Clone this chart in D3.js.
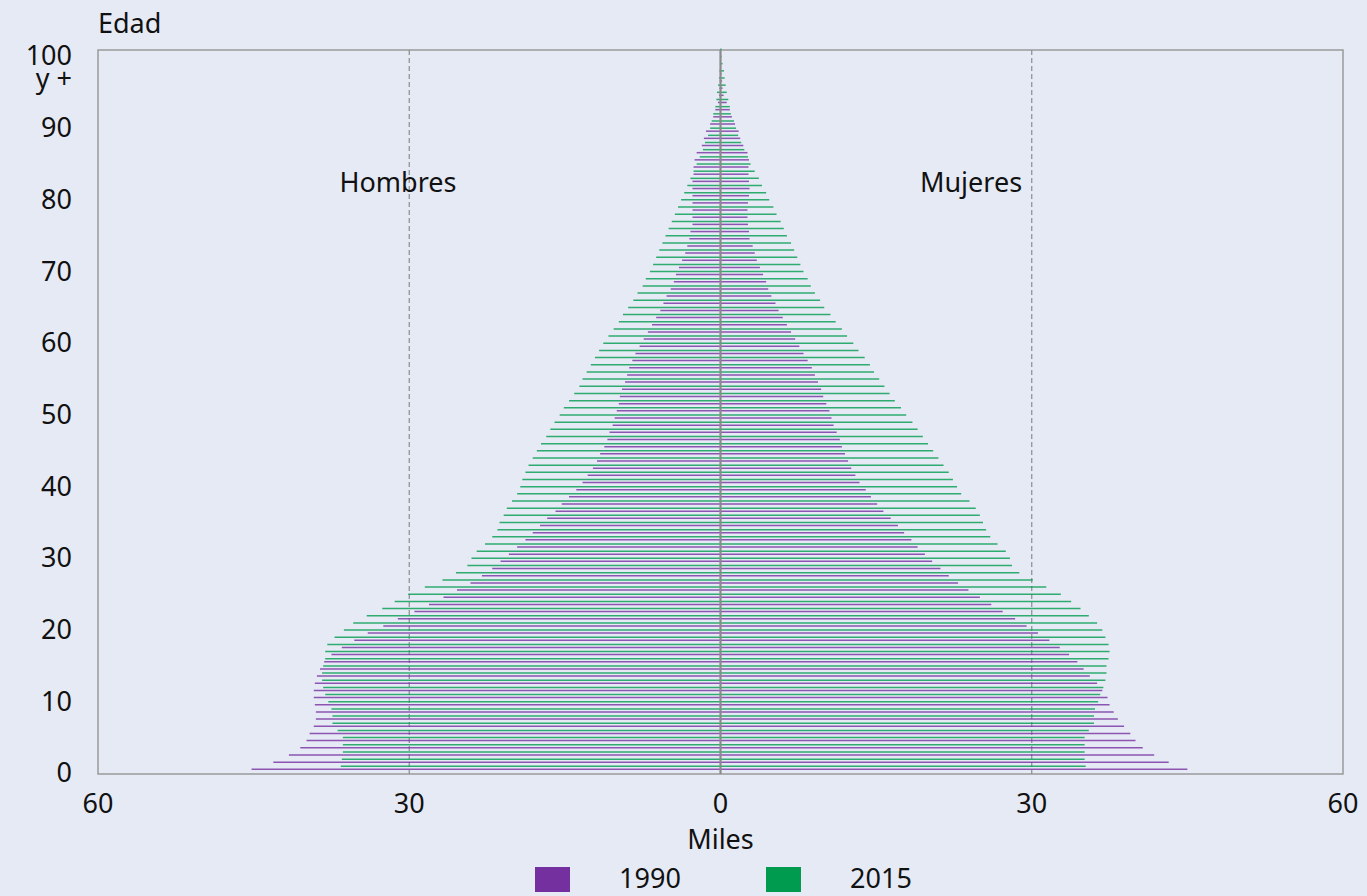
<!DOCTYPE html>
<html>
<head>
<meta charset="utf-8">
<script src="https://cdn.jsdelivr.net/npm/d3@7"></script>
<style>
body { margin: 0; background: #E6EAF5; }
text { font-family: "Noto Sans", sans-serif; fill: #111; }
</style>
</head>
<body>
<script>
// valores en miles, índice = edad (0 ... 100 y +)
const hombres1990 = [
  45.2, 43.1, 41.6, 40.5, 39.9, 39.6, 39.2, 39.0, 39.0, 39.1,
  39.2, 39.2, 39.1, 38.9, 38.6, 38.2, 37.5, 36.5, 35.3, 34.0,
  32.5, 31.1, 29.5, 28.1, 26.7, 25.4, 24.1, 23.0, 22.0, 21.2,
  20.4, 19.6, 18.8, 18.1, 17.4, 16.7, 15.9, 15.3, 14.6, 13.9,
  13.3, 12.8, 12.3, 11.9, 11.6, 11.2, 10.9, 10.7, 10.4, 10.2,
  10.0, 9.8, 9.7, 9.5, 9.2, 9.0, 8.8, 8.5, 8.2, 7.8,
  7.4, 7.0, 6.6, 6.2, 5.8, 5.5, 5.2, 4.8, 4.5, 4.3,
  4.0, 3.7, 3.4, 3.2, 3.0, 2.9, 2.7, 2.7, 2.7, 2.7,
  2.7, 2.7, 2.7, 2.6, 2.6, 2.5, 2.3, 1.8, 1.6, 1.4,
  1.0, 0.7, 0.5, 0.25, 0.15, 0.1, 0.08, 0.05, 0.03, 0.02,
  0.02
]
const hombres2015 = [
  36.6, 36.5, 36.4, 36.4, 36.4, 36.9, 37.4, 37.4, 37.5, 37.8,
  38.1, 38.3, 38.4, 38.4, 38.3, 38.1, 38.1, 37.9, 37.2, 36.3,
  35.4, 34.1, 32.6, 31.4, 30.1, 28.5, 26.8, 25.5, 24.4, 24.0,
  23.5, 22.7, 22.0, 21.5, 21.3, 20.9, 20.6, 20.1, 19.6, 19.3,
  19.1, 18.8, 18.5, 18.1, 17.7, 17.3, 16.8, 16.4, 16.0, 15.5,
  15.1, 14.6, 14.1, 13.6, 13.3, 12.9, 12.5, 12.1, 11.7, 11.3,
  10.8, 10.3, 9.8, 9.4, 8.9, 8.4, 8.0, 7.5, 7.2, 6.8,
  6.5, 6.2, 5.9, 5.6, 5.3, 5.0, 4.7, 4.4, 4.1, 3.8,
  3.5, 3.2, 2.9, 2.6, 2.3, 2.0, 1.7, 1.5, 1.2, 1.0,
  0.85, 0.7, 0.5, 0.4, 0.34, 0.24, 0.15, 0.1, 0.05, 0.03,
  0.03
]
const mujeres1990 = [
  45.0, 43.2, 41.8, 40.7, 40.0, 39.5, 38.9, 38.3, 37.9, 37.5,
  37.3, 36.8, 36.3, 35.6, 35.0, 34.4, 33.6, 32.7, 31.7, 30.6,
  29.5, 28.4, 27.2, 26.1, 25.0, 23.9, 22.9, 22.0, 21.2, 20.4,
  19.7, 19.0, 18.4, 17.7, 17.1, 16.4, 15.7, 15.1, 14.5, 14.0,
  13.4, 13.0, 12.6, 12.3, 12.0, 11.7, 11.5, 11.2, 10.9, 10.7,
  10.5, 10.2, 9.9, 9.7, 9.4, 9.1, 8.8, 8.4, 8.0, 7.6,
  7.2, 6.8, 6.4, 6.0, 5.6, 5.3, 4.9, 4.6, 4.4, 4.1,
  3.8, 3.5, 3.3, 3.1, 2.8, 2.75, 2.65, 2.6, 2.6, 2.65,
  2.75, 2.8, 2.75, 2.7, 2.7, 2.75, 2.6, 2.2, 1.9, 1.75,
  1.4, 1.1, 0.9, 0.6, 0.3, 0.2, 0.15, 0.1, 0.05, 0.03,
  0.03
]
const mujeres2015 = [
  35.2, 35.1, 35.1, 35.1, 35.1, 35.5, 36.0, 36.0, 36.1, 36.4,
  36.6, 36.9, 37.1, 37.2, 37.2, 37.4, 37.5, 37.4, 37.1, 36.8,
  36.3, 35.5, 34.7, 33.8, 32.8, 31.4, 30.1, 28.8, 28.1, 27.9,
  27.5, 26.7, 26.0, 25.6, 25.3, 25.0, 24.6, 24.0, 23.2, 22.8,
  22.4, 22.0, 21.5, 21.0, 20.5, 20.0, 19.5, 19.0, 18.5, 17.9,
  17.4, 16.8, 16.3, 15.8, 15.3, 14.8, 14.4, 13.9, 13.3, 12.8,
  12.2, 11.7, 11.1, 10.6, 10.0, 9.6, 9.1, 8.7, 8.4, 8.0,
  7.7, 7.4, 7.1, 6.8, 6.4, 6.1, 5.8, 5.4, 5.1, 4.7,
  4.4, 4.0, 3.7, 3.3, 2.9, 2.65, 2.3, 2.0, 1.7, 1.5,
  1.3, 1.0, 0.9, 0.75, 0.6, 0.5, 0.4, 0.34, 0.2, 0.1,
  0.1
]

const xTicks = [-60, -30, 0, 30, 60]
const yTicks = [0, 10, 20, 30, 40, 50, 60, 70, 80, 90]
const years = ['1990', '2015']

var purple = '#7530A0'
var green = '#009B4E'
var gridColor = '#8c8c8c'
var fontSize = 27

const svg = d3.select('body').append('svg')
    .attr('width', 1367)
    .attr('height', 896)

const x = d3.scaleLinear().domain([-60, 60]).range([98, 1343])
const y = d3.scaleLinear().domain([0, 100]).range([773, 56])
const color = d3.scaleOrdinal().domain(years).range([purple, green])

const plotTop = 50, plotBottom = 774

// marco
svg.append('rect')
    .attr('x', x(-60))
    .attr('y', plotTop)
    .attr('width', x(60) - x(-60))
    .attr('height', plotBottom - plotTop)
    .attr('fill', 'none')
    .attr('stroke', '#9a9a9a')
    .attr('stroke-width', 1.5)

// líneas punteadas en 30
svg.selectAll('.grid')
    .data([-30, 30])
    .enter().append('line')
    .attr('x1', d => x(d))
    .attr('x2', d => x(d))
    .attr('y1', plotTop)
    .attr('y2', plotBottom)
    .attr('stroke', gridColor)
    .attr('stroke-width', 1.2)
    .attr('stroke-dasharray', '5,3')

// barras finas: una por edad y año
const series = [
    { values: hombres1990, sign: -1, year: '1990', off: 3.7 },
    { values: hombres2015, sign: -1, year: '2015', off: 6.7 },
    { values: mujeres1990, sign: 1, year: '1990', off: 3.7 },
    { values: mujeres2015, sign: 1, year: '2015', off: 6.7 }
]

series.forEach(s => {
    svg.append('g').selectAll('line')
        .data(s.values)
        .enter().append('line')
        .attr('x1', x(0))
        .attr('x2', d => x(s.sign * d))
        .attr('y1', (d, i) => y(i) - s.off)
        .attr('y2', (d, i) => y(i) - s.off)
        .attr('stroke', color(s.year))
        .attr('stroke-width', 1.5)
        .attr('stroke-opacity', 0.8)
})

// eje central
svg.append('line')
    .attr('x1', x(0))
    .attr('x2', x(0))
    .attr('y1', plotTop)
    .attr('y2', plotBottom)
    .attr('stroke', '#8a8a8a')
    .attr('stroke-width', 2.2)

// etiquetas eje y
svg.selectAll('.ylab')
    .data(yTicks)
    .enter().append('text')
    .attr('x', 72)
    .attr('y', d => y(d))
    .attr('dy', '0.35em')
    .attr('text-anchor', 'end')
    .style('font-size', fontSize + 'px')
    .text(d => d)

// "100 y +" en dos renglones
const top100 = svg.append('text')
    .attr('text-anchor', 'end')
    .style('font-size', fontSize + 'px')
top100.append('tspan')
    .attr('x', 72)
    .attr('y', y(100))
    .attr('dy', '0.35em')
    .text('100')
top100.append('tspan')
    .attr('x', 72)
    .attr('y', y(100) + 23)
    .attr('dy', '0.35em')
    .text('y +')

svg.append('text')
    .attr('x', 98)
    .attr('y', 33)
    .style('font-size', fontSize + 'px')
    .text('Edad')

// etiquetas eje x
svg.selectAll('.xlab')
    .data(xTicks)
    .enter().append('text')
    .attr('x', d => x(d))
    .attr('y', 813)
    .attr('text-anchor', 'middle')
    .style('font-size', fontSize + 'px')
    .text(d => Math.abs(d))

svg.append('text')
    .attr('x', x(0))
    .attr('y', 849)
    .attr('text-anchor', 'middle')
    .style('font-size', fontSize + 'px')
    .text('Miles')

svg.append('text')
    .attr('x', 398)
    .attr('y', 192)
    .attr('text-anchor', 'middle')
    .style('font-size', fontSize + 'px')
    .text('Hombres')

svg.append('text')
    .attr('x', 971)
    .attr('y', 192)
    .attr('text-anchor', 'middle')
    .style('font-size', fontSize + 'px')
    .text('Mujeres')

// leyenda
const legendX = [535, 766]
years.forEach((yr, i) => {
    svg.append('rect')
        .attr('x', legendX[i])
        .attr('y', 867)
        .attr('width', 35)
        .attr('height', 25)
        .attr('fill', color(yr))
    svg.append('text')
        .attr('x', legendX[i] + 115)
        .attr('y', 888)
        .attr('text-anchor', 'middle')
        .style('font-size', fontSize + 'px')
        .text(yr)
})
</script>
</body>
</html>
